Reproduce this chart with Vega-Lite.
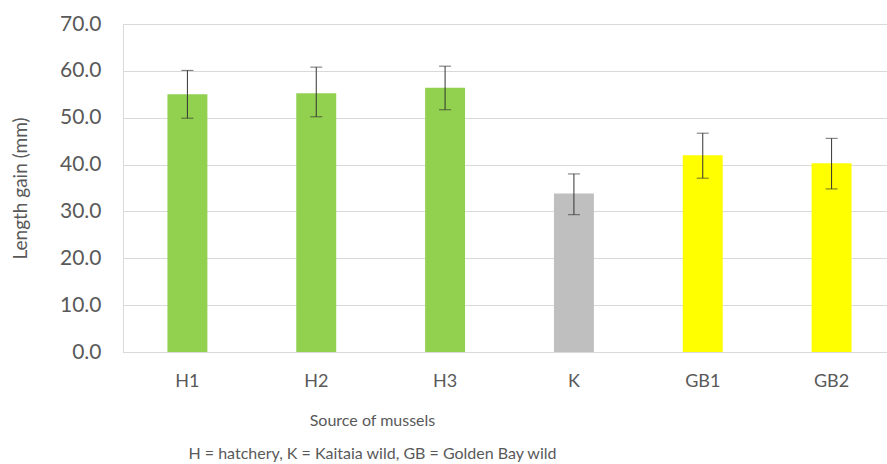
{
  "$schema": "https://vega.github.io/schema/vega-lite/v6.json",
  "autosize": "none",
  "width": 764,
  "height": 328,
  "padding": {"left": 123, "top": 24, "right": 0, "bottom": 112},
  "background": "white",
  "config": {
    "font": "Lato",
    "view": {"stroke": "#D9D9D9", "strokeWidth": 1}
  },
  "data": {
    "values": [
      {"source": "H1", "group": "H", "gain": 55.0, "lo": 49.9, "hi": 60.1},
      {"source": "H2", "group": "H", "gain": 55.2, "lo": 50.2, "hi": 60.8},
      {"source": "H3", "group": "H", "gain": 56.4, "lo": 51.7, "hi": 61.0},
      {"source": "K", "group": "K", "gain": 33.8, "lo": 29.3, "hi": 38.0},
      {"source": "GB1", "group": "GB", "gain": 42.0, "lo": 37.1, "hi": 46.7},
      {"source": "GB2", "group": "GB", "gain": 40.3, "lo": 34.8, "hi": 45.6}
    ]
  },
  "encoding": {
    "x": {
      "field": "source",
      "type": "nominal",
      "sort": null,
      "scale": {"paddingInner": 0.69, "paddingOuter": 0.345, "range": [0, 773]},
      "axis": {
        "title": ["Source of mussels", "H = hatchery, K = Kaitaia wild, GB = Golden Bay wild"],
        "titleFont": "Lato",
        "titleFontSize": 16,
        "titleFontWeight": "normal",
        "titleColor": "#595959",
        "titleLineHeight": 33,
        "titlePadding": 22,
        "titleX": 249,
        "titleAnchor": null,
        "titleAlign": "center",
        "labelAngle": 0,
        "labelFontSize": 18,
        "labelColor": "#595959",
        "labelPadding": 20,
        "ticks": false,
        "domainColor": "#D9D9D9",
        "grid": false
      }
    }
  },
  "layer": [
    {
      "mark": {"type": "bar"},
      "encoding": {
        "y": {
          "field": "gain",
          "type": "quantitative",
          "scale": {"domain": [0, 70]},
          "axis": {
            "title": "Length gain (mm)",
            "titleFontSize": 19,
            "titleFontWeight": "normal",
            "titleColor": "#595959",
            "titlePadding": 29,
            "values": [0, 10, 20, 30, 40, 50, 60, 70],
            "format": ".1f",
            "labelFontSize": 21,
            "labelColor": "#595959",
            "labelPadding": 22,
            "ticks": false,
            "domain": false,
            "gridColor": "#D9D9D9",
            "gridWidth": 1
          }
        },
        "color": {
          "field": "group",
          "type": "nominal",
          "scale": {"domain": ["H", "K", "GB"], "range": ["#92D050", "#BFBFBF", "#FFFF00"]},
          "legend": null
        }
      }
    },
    {
      "mark": {"type": "rule", "color": "#333333", "strokeWidth": 1},
      "encoding": {
        "y": {"field": "lo", "type": "quantitative"},
        "y2": {"field": "hi"}
      }
    },
    {
      "mark": {"type": "tick", "orient": "horizontal", "color": "#333333", "size": 12, "thickness": 1},
      "encoding": {"y": {"field": "lo", "type": "quantitative"}}
    },
    {
      "mark": {"type": "tick", "orient": "horizontal", "color": "#333333", "size": 12, "thickness": 1},
      "encoding": {"y": {"field": "hi", "type": "quantitative"}}
    }
  ]
}
